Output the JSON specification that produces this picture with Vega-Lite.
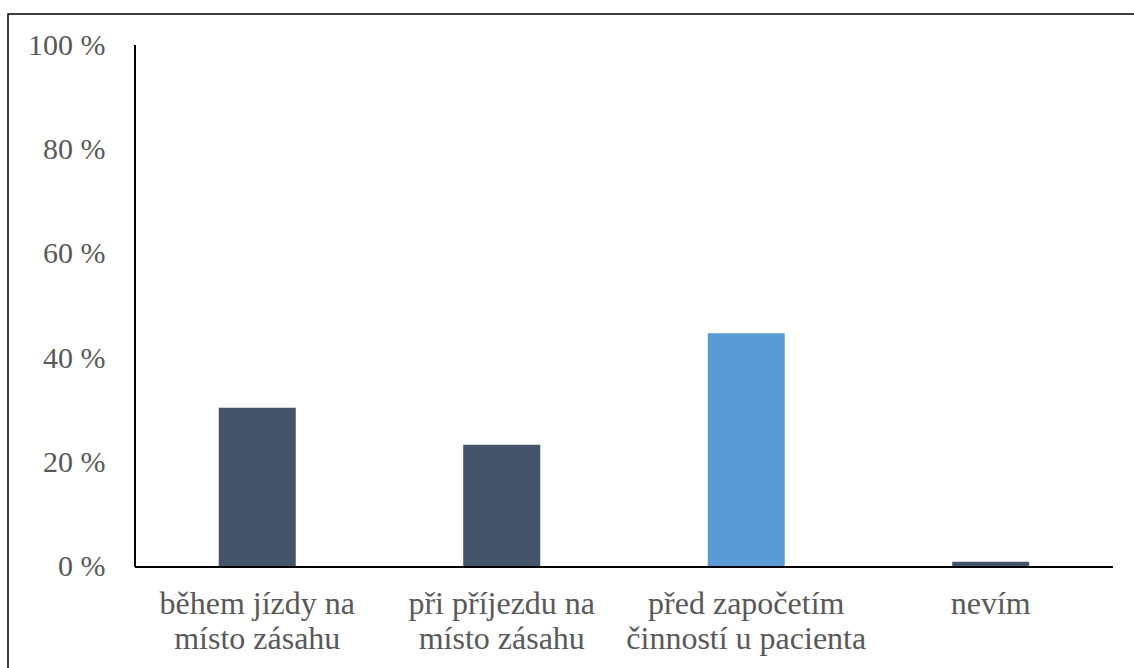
{
  "$schema": "https://vega.github.io/schema/vega-lite/v6.json",
  "width": 1126,
  "height": 654,
  "autosize": {"type": "none"},
  "padding": {"left": 8, "top": 14, "right": 0, "bottom": 0},
  "background": "white",
  "view": {"stroke": "black", "strokeWidth": 1.5, "strokeDash": [1126, 1780, 654, 10]},
  "config": {"font": "Liberation Serif, Times New Roman, serif"},
  "data": {
    "values": [
      {"kategorie": "během jízdy na\nmísto zásahu", "podil": 30.5},
      {"kategorie": "při příjezdu na\nmísto zásahu", "podil": 23.4},
      {"kategorie": "před započetím\nčinností u pacienta", "podil": 44.8},
      {"kategorie": "nevím", "podil": 1.0}
    ]
  },
  "layer": [
    {
      "mark": {"type": "bar", "width": {"band": 0.315}},
      "encoding": {
        "x": {
          "field": "kategorie",
          "type": "nominal",
          "sort": null,
          "scale": {"paddingInner": 0, "paddingOuter": 0.3027, "align": 0.858},
          "axis": {
            "orient": "bottom",
            "offset": -101,
            "title": null,
            "domain": false,
            "ticks": false,
            "tickSize": 0,
            "labelAngle": 0,
            "labelFont": "Liberation Serif, Times New Roman, serif",
            "labelFontSize": 32,
            "labelColor": "#595959",
            "labelPadding": 21,
            "labelLineHeight": 35,
            "labelLimit": 0,
            "labelExpr": "split(datum.label, '\\n')"
          }
        },
        "y": {
          "field": "podil",
          "type": "quantitative",
          "scale": {"domain": [-19.35, 105.94], "nice": false, "zero": false},
          "axis": {
            "title": null,
            "offset": -127,
            "values": [0, 20, 40, 60, 80, 100],
            "domain": false,
            "ticks": false,
            "tickSize": 0,
            "grid": false,
            "labelFont": "Liberation Serif, Times New Roman, serif",
            "labelFontSize": 30,
            "labelColor": "#595959",
            "labelPadding": 30,
            "labelExpr": "datum.value + ' %'"
          }
        },
        "color": {
          "field": "kategorie",
          "type": "nominal",
          "legend": null,
          "scale": {
            "domain": ["během jízdy na\nmísto zásahu", "při příjezdu na\nmísto zásahu", "před započetím\nčinností u pacienta", "nevím"],
            "range": ["#44546A", "#44546A", "#5B9BD5", "#44546A"]
          }
        }
      }
    },
    {
      "data": {"values": [{"osa": "y"}]},
      "mark": {"type": "rule", "color": "black", "strokeWidth": 2},
      "encoding": {
        "x": {"datum": "během jízdy na\nmísto zásahu", "bandPosition": 0},
        "y": {"datum": 0},
        "y2": {"datum": 100}
      }
    },
    {
      "data": {"values": [{"osa": "x"}]},
      "mark": {"type": "rule", "color": "black", "strokeWidth": 2},
      "encoding": {
        "x": {"datum": "během jízdy na\nmísto zásahu", "bandPosition": 0},
        "x2": {"datum": "nevím", "bandPosition": 1},
        "y": {"datum": 0}
      }
    }
  ]
}
